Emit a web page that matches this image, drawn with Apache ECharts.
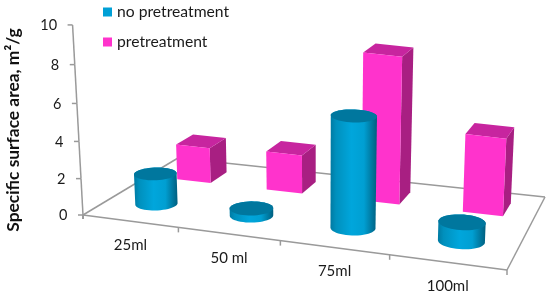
<!DOCTYPE html>
<html><head><meta charset="utf-8">
<style>html,body{margin:0;padding:0;background:#fff}#c{width:550px;height:297px}</style>
<script src="https://cdn.jsdelivr.net/npm/echarts@6/dist/echarts.min.js"></script>
</head><body><div id="c"></div>
<script>
var categories = ['25ml', '50 ml', '75ml', '100ml'];
var noPretreatment = [1.69, 0.4, 6.18, 1.07];
var pretreatment = [2.05, 2.23, 8.39, 4.5];
var valueTicks = [0, 2, 4, 6, 8, 10];
var yTitle = 'Specific surface area, m\u00b2/g';
var FONT = 'Lato, "Noto Sans", sans-serif';

// 3D view: floor corners on screen
var Q = [[83,215],[507,270],[545,197],[178,158]];
var H = (function(){
  var x0=Q[0][0],y0=Q[0][1],x1=Q[1][0],y1=Q[1][1],x2=Q[2][0],y2=Q[2][1],x3=Q[3][0],y3=Q[3][1];
  var dx3=x0-x1+x2-x3,dy3=y0-y1+y2-y3,dx1=x1-x2,dx2=x3-x2,dy1=y1-y2,dy2=y3-y2;
  var den=dx1*dy2-dx2*dy1,g=(dx3*dy2-dx2*dy3)/den,h=(dx1*dy3-dx3*dy1)/den;
  return {a:x1-x0+g*x1,b:x3-x0+h*x3,c:x0,d:y1-y0+g*y1,e:y3-y0+h*y3,f:y0,g:g,h:h};
})();
function floor(u,d){var w=H.g*u+H.h*d+1;return [(H.a*u+H.b*d+H.c)/w,(H.d*u+H.e*d+H.f)/w];}
var VX=318, LEAN=4285, DEPTH_SHRINK=0.1;
function lift(p,v,d){ // v in value units, d floor depth
  var t=18*v/(1-0.0053*v)*(1-DEPTH_SHRINK*(d||0));
  return [p[0]+(p[0]-VX)/LEAN*t, p[1]-t];
}
// axis-based lookup: library scale -> (u in 0..1, v in value units)
function logical(params,api,cat,val){
  var c=api.coord([cat,val]),r=params.coordSys;
  return {u:(c[0]-r.x)/r.width, v:(r.y+r.height-c[1])/r.height*10, band:api.size([1,0])[0]/r.width};
}
var lineStyle={stroke:'#9a9a9a',lineWidth:1.5,fill:null};
function seg(a,b,st){return {type:'line',shape:{x1:a[0],y1:a[1],x2:b[0],y2:b[1]},style:st||lineStyle,silent:true};}

function renderFloor(params,api){
  return {type:'group',children:[
    seg(Q[0],Q[1]),seg(Q[1],Q[2]),seg(Q[2],Q[3]),seg(Q[3],Q[0])
  ]};
}
function renderValueTick(params,api){
  var L=logical(params,api,0,api.value(1));
  var top=lift(Q[0],L.v);
  var ch=[seg([top[0]-5,top[1]],top)];
  if(params.dataIndex<valueTicks.length-1) ch.push(seg(top,lift(Q[0],valueTicks[params.dataIndex+1])));
  ch.push({type:'text',style:{x:top[0]-15.5,y:top[1]+0.5,text:String(valueTicks[params.dataIndex]),align:'right',verticalAlign:'middle',fill:'#1a1a1a',font:'14.5px '+FONT}});
  return {type:'group',children:ch};
}
function renderCategory(params,api){
  var i=params.dataIndex,L=logical(params,api,i,0);
  var u1=L.u+L.band/2,p=floor(u1,0),m=floor(L.u,0);
  return {type:'group',children:[
    seg(p,[p[0],p[1]+5]),
    seg(Q[0],[Q[0][0],Q[0][1]+4]),
    {type:'text',style:{x:m[0]+0.5,y:m[1]+24,text:categories[i],align:'center',verticalAlign:'middle',fill:'#1a1a1a',font:'15px '+FONT}}
  ]};
}
var BW=0.19, CBW=0.205, PSHIFT=0.03, PD0=0.65, PD1=0.85;
function renderBox(params,api){
  var i=api.value(0),L=logical(params,api,i,api.value(1));
  var uc=L.u+PSHIFT*L.band,u0=uc-BW*L.band,u1=uc+BW*L.band;
  function P(u,d,v){return lift(floor(u,d),v,d);}
  var a=P(u0,PD0,0),b=P(u1,PD0,0),c=P(u1,PD1,0);
  var at=P(u0,PD0,L.v),bt=P(u1,PD0,L.v),ct=P(u1,PD1,L.v),dt=P(u0,PD1,L.v);
  return {type:'group',children:[
    {type:'polygon',shape:{points:[b,c,ct,bt]},style:{fill:'#a81f82'}},
    {type:'polygon',shape:{points:[at,bt,ct,dt]},style:{fill:'#c7259f'}},
    {type:'polygon',shape:{points:[a,b,bt,at]},style:{fill:'#ff33cc'}}
  ]};
}
var CD=0.265, CRD=0.1;
function renderCyl(params,api){
  var i=api.value(0),L=logical(params,api,i,api.value(1));
  var ru=CBW*L.band,n=48,top=[],bot=[];
  for(var k=0;k<n;k++){
    var t=k/n*2*Math.PI,u=L.u+ru*Math.cos(t),d=CD+CRD*Math.sin(t),f=floor(u,d);
    bot.push(f);top.push(lift(f,L.v,d));
  }
  function ext(ring){var lo=0,hi=0;ring.forEach(function(p,j){if(p[0]<ring[lo][0])lo=j;if(p[0]>ring[hi][0])hi=j;});return [lo,hi];}
  var et=ext(top),eb=ext(bot),body=[];
  body.push(top[et[0]]);
  for(var j=eb[0];;j=(j+1)%n){body.push(bot[j]);if(j===eb[1])break;}
  body.push(top[et[1]]);
  for(var m=et[1];m!==et[0];m=(m+1)%n){body.push(top[m]);}
  return {type:'group',children:[
    {type:'polygon',shape:{points:body},style:{fill:new echarts.graphic.LinearGradient(0,0,1,0,[
      {offset:0,color:'#007aa2'},{offset:0.12,color:'#0090bd'},{offset:0.45,color:'#00a6dc'},{offset:0.72,color:'#009fd2'},{offset:1,color:'#005f7f'}])}},
    {type:'polygon',shape:{points:top},style:{fill:'#00779e'}}
  ]};
}
function rows(arr){return arr.map(function(v,i){return [i,v];});}

var chart=echarts.init(document.getElementById('c'),null,{renderer:'canvas'});
chart.setOption({
  animation:false,
  backgroundColor:'#fff',
  grid:{left:83,top:25,width:424,height:190,containLabel:false},
  xAxis:{type:'category',data:categories,show:false},
  yAxis:{type:'value',min:0,max:10,interval:2,show:false},
  legend:{data:['no pretreatment','pretreatment'],orient:'vertical',left:103,top:4,padding:0,itemWidth:9,itemHeight:9,itemGap:14,icon:'rect',selectedMode:false,
    textStyle:{fontFamily:FONT,fontSize:15.7,color:'#1a1a1a'}},
  graphic:[{type:'text',x:13,y:130,rotation:Math.PI/2,style:{text:yTitle,align:'center',verticalAlign:'middle',fill:'#111',font:'bold 17.4px '+FONT}}],
  series:[
    {type:'custom',name:'floor',coordinateSystem:'cartesian2d',silent:true,clip:false,renderItem:renderFloor,data:[[0,0]],encode:{x:0,y:1}},
    {type:'custom',name:'valueAxis',coordinateSystem:'cartesian2d',silent:true,clip:false,renderItem:renderValueTick,data:valueTicks.map(function(v){return [0,v];}),encode:{x:0,y:1}},
    {type:'custom',name:'categoryAxis',coordinateSystem:'cartesian2d',silent:true,clip:false,renderItem:renderCategory,data:categories.map(function(c,i){return [i,0];}),encode:{x:0,y:1}},
    {type:'custom',name:'pretreatment',coordinateSystem:'cartesian2d',silent:true,clip:false,itemStyle:{color:'#ff33cc'},renderItem:renderBox,data:rows(pretreatment),encode:{x:0,y:1}},
    {type:'custom',name:'no pretreatment',coordinateSystem:'cartesian2d',silent:true,clip:false,itemStyle:{color:'#00a0d6'},renderItem:renderCyl,data:rows(noPretreatment),encode:{x:0,y:1}}
  ]
});
</script></body></html>
